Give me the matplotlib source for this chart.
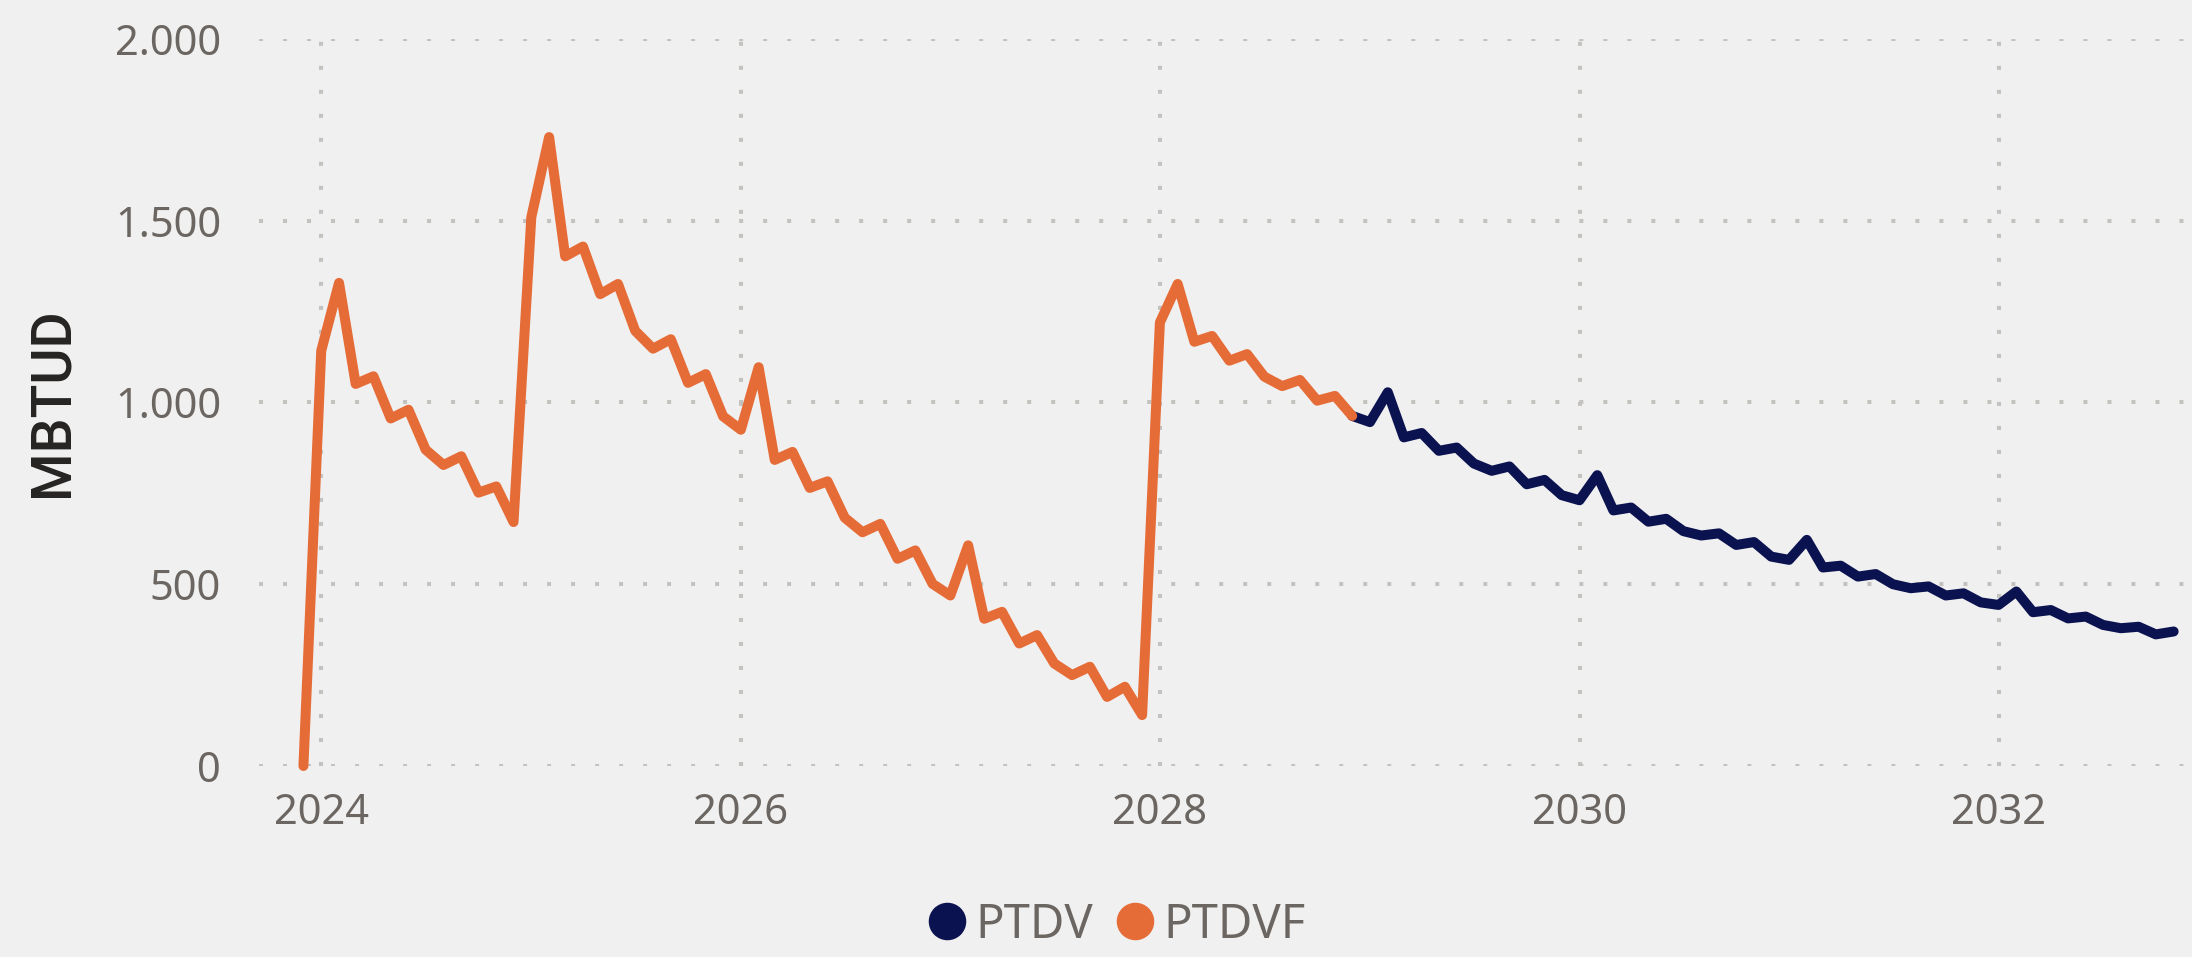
import matplotlib
matplotlib.use("Agg")
import matplotlib.pyplot as plt
import matplotlib.dates as mdates
from matplotlib.lines import Line2D
from matplotlib.ticker import FuncFormatter
import pandas as pd

# monthly values (MBTUD)
PTDVF_START = "2023-12-01"
PTDVF = [
    0,
    1142, 1329, 1051, 1072, 956, 980, 870, 828, 852, 752, 769, 671,      # 2024
    1510, 1730, 1402, 1429, 1298, 1326, 1197, 1148, 1174, 1054, 1078, 962,  # 2025
    925, 1097, 842, 864, 765, 783, 683, 643, 666, 570, 593, 501,          # 2026
    469, 607, 405, 424, 337, 360, 282, 250, 273, 190, 218, 140,           # 2027
    1220, 1326, 1167, 1183, 1115, 1133, 1071, 1045, 1062, 1005, 1018, 963,  # 2028
]
PTDV_START = "2028-12-01"
PTDV = [
    963,
    946, 1028, 904, 916, 867, 876, 832, 812, 824, 775, 787, 745,   # 2029
    731, 800, 703, 711, 672, 680, 646, 634, 640, 608, 616, 576,    # 2030
    567, 622, 546, 551, 521, 528, 500, 489, 494, 469, 475, 450,    # 2031
    443, 480, 423, 429, 406, 411, 388, 379, 383, 362, 370,         # 2032 (Jan-Nov)
]
SERIES = ["PTDV", "PTDVF"]
YTICKS = [0, 500, 1000, 1500, 2000]
XTICK_YEARS = [2024, 2026, 2028, 2030, 2032]

NAVY, ORANGE = "#0B1250", "#E66C37"
BG, GRID, TICK, INK = "#F0F0F0", "#C4C2BF", "#6B6661", "#252423"
FONT = ["Noto Sans", "DejaVu Sans"]

plt.rcParams.update({"font.family": FONT, "figure.facecolor": BG,
                     "axes.facecolor": BG, "savefig.facecolor": BG})

fig = plt.figure(figsize=(21.92, 9.57), dpi=100)
AX_POS = [0.118, 0.1996, 0.882, 0.7597]
ax = fig.add_axes(AX_POS)

x_f = pd.date_range(PTDVF_START, periods=len(PTDVF), freq="MS")
x_v = pd.date_range(PTDV_START, periods=len(PTDV), freq="MS")
ax.plot(x_v, PTDV, color=NAVY, lw=7.2, solid_joinstyle="round",
        solid_capstyle="round", clip_on=False, zorder=3)
ax.plot(x_f, PTDVF, color=ORANGE, lw=7.2, solid_joinstyle="round",
        solid_capstyle="round", clip_on=False, zorder=4)

ax.set_ylim(0, 2000)
ax.set_xlim(pd.Timestamp("2023-09-14"), pd.Timestamp("2032-12-03"))
ax.set_yticks(YTICKS)
ax.yaxis.set_major_formatter(FuncFormatter(lambda v, _: f"{int(v):,}".replace(",", ".")))
ax.set_xticks([pd.Timestamp(f"{y}-01-01") for y in XTICK_YEARS])
ax.xaxis.set_major_formatter(mdates.DateFormatter("%Y"))

for s in ax.spines.values():
    s.set_visible(False)
ax.tick_params(length=0, labelsize=30, colors=TICK)
ax.tick_params(axis="y", pad=27)
ax.tick_params(axis="x", pad=19)
ax.grid(True, color=GRID, lw=2.9, linestyle=(0, (1, 4.96)), dash_capstyle="butt")
ax.set_axisbelow(True)

# axis title, centred on the plot's vertical middle
fig.text(52 / 2192, AX_POS[1] + AX_POS[3] / 2, "MBTUD", rotation=90, ha="center",
         va="center", fontsize=40, color=INK, fontfamily=["Roboto", "DejaVu Sans"],
         fontweight="medium")

handles = [Line2D([], [], ls="", marker="o", ms=26, color=c) for c in (NAVY, ORANGE)]
leg = fig.legend(handles, SERIES, loc="center", bbox_to_anchor=(1117 / 2192, 1 - 925 / 957),
                 ncol=2, frameon=False, fontsize=34, handletextpad=0.2,
                 columnspacing=0.5, handlelength=0.8)
for t in leg.get_texts():
    t.set_color(TICK)

fig.savefig("out.png", dpi=100)
